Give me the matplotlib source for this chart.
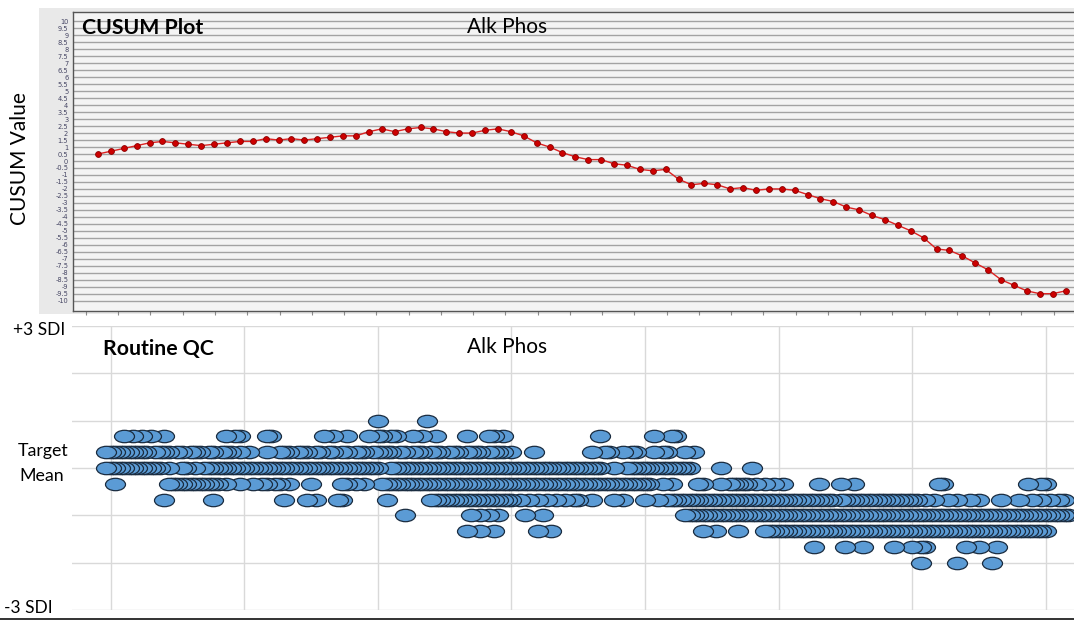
import numpy as np
import matplotlib
matplotlib.use("Agg")
import matplotlib.pyplot as plt
from matplotlib.path import Path
from matplotlib.patches import Rectangle
from matplotlib.lines import Line2D

plt.rcParams['font.family'] = ['Lato', 'DejaVu Sans']

# ---- data ----
analyte = "Alk Phos"

# CUSUM value per run
cusum = [0.5, 0.7, 0.9, 1.1, 1.3, 1.4, 1.3, 1.2, 1.1, 1.2,
         1.3, 1.4, 1.4, 1.6, 1.5, 1.6, 1.5, 1.6, 1.7, 1.8,
         1.8, 2.1, 2.3, 2.1, 2.3, 2.4, 2.3, 2.1, 2.0, 2.0,
         2.2, 2.3, 2.1, 1.8, 1.3, 1.0, 0.6, 0.3, 0.1, 0.1,
         -0.2, -0.3, -0.6, -0.7, -0.6, -1.3, -1.7, -1.6, -1.7, -2.0,
         -1.9, -2.1, -2.0, -2.0, -2.1, -2.4, -2.7, -2.9, -3.3, -3.5,
         -3.9, -4.2, -4.6, -5.0, -5.5, -6.3, -6.4, -6.8, -7.3, -7.8,
         -8.5, -8.9, -9.3, -9.5, -9.5, -9.3]

# routine QC: day of each result, grouped by SDI level
qc_p1 = [60, 71]
qc_p23 = [3, 5, 7, 9, 12, 26, 28, 29, 35, 36, 48, 50, 53, 58, 60, 61, 63, 64,
          68, 70, 73, 80, 85, 86, 88, 110, 122, 126, 127]
qc_p13 = [-1, 0, 1, 2, 3, 4, 5, 6, 7, 8, 10, 11, 12, 13, 15, 16, 18, 19, 20,
          22, 23, 25, 26, 27, 29, 31, 35, 38, 39, 40, 42, 43, 44, 46, 47, 49,
          50, 52, 53, 55, 56, 57, 59, 60, 61, 62, 63, 65, 66, 68, 69, 70, 72,
          73, 74, 76, 77, 78, 80, 81, 82, 83, 85, 86, 87, 88, 90, 95, 108,
          111, 112, 115, 117, 118, 122, 124, 125, 129, 131]
qc_0 = [-1, 0, 1, 2, 3, 4, 5, 6, 7, 8, 9, 10, 11, 13, 16, 17, 19,
        21, 22, 23, 24, 25, 26, 27, 28, 29, 30, 31, 32, 33, 34, 35, 36, 37, 38, 39, 40,
        41, 42, 43, 44, 45, 46, 47, 48, 49, 50, 51, 52, 53, 54, 55, 56, 57, 58, 59, 60,
        63, 64, 65, 66, 67, 68, 69, 70, 71, 72, 73, 74, 75, 76, 77, 78, 79, 80,
        81, 82, 83, 84, 85, 86, 87, 88, 89, 90, 91, 92, 93, 94, 95, 96, 97, 98, 99, 100,
        101, 102, 103, 104, 105, 106, 107, 108, 109, 110, 113,
        116, 117, 118, 119, 120, 121, 122, 123, 124, 125, 126, 127, 128, 129, 130,
        137, 144]
qc_m13 = [1, 13, 14, 15, 16, 17, 18, 19, 20, 21, 22, 23, 24, 26, 29, 32, 34, 35,
          37, 38, 40, 45, 52, 53, 55, 57,
          61, 62, 63, 64, 65, 66, 67, 68, 69, 70, 71, 72, 73, 74, 75, 76, 77, 78, 79, 80,
          81, 82, 83, 84, 85, 86, 87, 88, 89, 90, 91, 92, 93, 94, 95, 96, 97, 98, 99, 100,
          101, 102, 103, 104, 105, 106, 107, 108, 109, 110, 111, 112, 113, 114, 115,
          116, 117, 118, 119, 120, 121,
          124, 126, 132, 133, 137, 139, 140, 141, 142, 143, 145, 147, 149, 151, 159,
          164, 167, 186, 187, 206, 209, 210]
qc_m23 = [12, 23, 39, 44, 46, 51, 52, 62,
          72, 73, 74, 75, 76, 77, 78, 79, 80, 81, 82, 83, 84, 85, 86, 87, 88, 89, 90,
          92, 94, 96, 98, 100, 102, 104, 105, 108, 113, 115, 120, 123,
          125, 126, 127, 128, 129, 130, 131, 132, 133, 134, 135, 136, 137, 138, 139, 140,
          141, 142, 143, 144, 145, 146, 147, 148, 149, 150, 151, 152, 153, 154, 155, 156,
          157, 158, 159, 160, 161, 162,
          164, 165, 166, 167, 168, 169, 170, 171, 172, 173, 174, 175, 176, 177, 178, 179,
          180, 181, 183, 185, 188, 190, 193, 195, 200, 204, 207, 209, 211, 213, 214]
qc_m1 = [66, 81, 83, 85, 87, 93, 97,
         129, 130, 131, 132, 133, 134, 135, 136, 137, 138, 139, 140,
         141, 142, 143, 144, 145, 146, 147, 148, 149, 150, 151, 152, 153, 154, 155, 156,
         157, 158, 159, 160, 161, 162, 163, 164, 165, 166, 167, 168, 169, 170, 171, 172,
         173, 174, 175, 176, 177, 178, 179, 180, 181, 182, 183, 184, 185, 186, 187, 188,
         189, 190, 191, 192, 193, 194, 195, 196, 197, 198, 199, 200, 201, 202, 203, 204,
         205, 206, 207, 208, 209, 210, 211, 212, 213, 214, 215]
qc_m43 = [80, 83, 86, 96, 99, 133, 136, 141,
          147, 148, 149, 150, 151, 152, 153, 154, 155, 156, 157, 158, 159, 160, 161, 162,
          163, 164, 165, 166, 167, 168, 169, 170, 171, 172, 173, 174, 175, 176, 177, 178,
          179, 180, 181, 182, 183, 184, 185, 186, 187, 188, 189, 190, 191, 192, 193, 194,
          195, 196, 197, 198, 199, 200, 201, 202, 203, 204, 205, 206, 207, 208, 209, 210]
qc_m53 = [158, 165, 169, 176, 180, 182, 183, 192, 195, 199]
qc_m2 = [182, 190, 198]

qc_rows = [(1.0, qc_p1), (2 / 3, qc_p23), (1 / 3, qc_p13), (0.0, qc_0),
           (-1 / 3, qc_m13), (-2 / 3, qc_m23), (-1.0, qc_m1), (-4 / 3, qc_m43),
           (-5 / 3, qc_m53), (-2.0, qc_m2)]

# ---- figure ----
W, H = 1074, 621
fig = plt.figure(figsize=(W / 100, H / 100), dpi=100)


def box(l, t, r, b):
    # pixel box (from top-left) -> figure rect
    return [l / W, 1 - b / H, (r - l) / W, (b - t) / H]


# grey panel behind the CUSUM chart
fig.patches.append(Rectangle((39 / W, 1 - 314 / H), (W - 39) / W, (314 - 8) / H,
                             transform=fig.transFigure, facecolor='#e9e9e9',
                             edgecolor='none', zorder=-5))

# top: CUSUM plot
ax1 = fig.add_axes(box(72.7, 11.7, 1080, 311))
ax1.set_facecolor('#f4f4f4')
idx = np.arange(len(cusum))
ax1.plot(idx, cusum, color='#dd2222', lw=1.0, marker='o', ms=4.2,
         mfc='#cc0000', mec='#8a0000', mew=0.6, zorder=3)
ax1.set_xlim(-1.96, 76.12)
ax1.set_ylim(-10.74, 10.69)
yt = np.arange(-10, 10.01, 0.5)
ax1.set_yticks(yt)
ax1.set_yticklabels([f'{v:g}' for v in yt], family='DejaVu Sans')
ax1.tick_params(axis='y', length=0, pad=3.2, labelsize=4.8, labelcolor='#454563')
ax1.grid(axis='y', color='#a3a3a3', lw=1.0)
ax1.set_axisbelow(True)
ax1.set_xticks(np.arange(-0.93, 76.5, 2.5))
ax1.tick_params(axis='x', length=3, width=0.8, color='#8a8a8a', labelbottom=False)
for s in ['left', 'top', 'bottom']:
    ax1.spines[s].set_color('#555555')
    ax1.spines[s].set_linewidth(1.0)
ax1.spines['right'].set_visible(False)

fig.text(82 / W, 1 - 28 / H, 'CUSUM Plot', fontsize=15.3, fontweight='bold',
         ha='left', va='center')
fig.text(507 / W, 1 - 27 / H, analyte, fontsize=15, ha='center', va='center')
fig.text(20 / W, 1 - 159 / H, 'CUSUM Value', fontsize=15, rotation=90,
         ha='center', va='center')

# bottom: routine QC
ax2 = fig.add_axes(box(72, 326, 1080, 610))
ax2.set_xlim(-8.69, 217.7)
ax2.set_ylim(-3, 3)
ax2.set_yticks(range(-3, 4))
ax2.set_xticks(range(0, 211, 30))
ax2.grid(color='#d9d9d9', lw=1.0)
ax2.set_axisbelow(True)
ax2.tick_params(length=0, labelleft=False, labelbottom=False)
for s in ax2.spines.values():
    s.set_visible(False)

circ = Path.unit_circle()
ellipse = Path(circ.vertices * np.array([1.0, 0.62]), circ.codes)

xs, ys = [], []
for level, days in qc_rows:
    for d in days:
        xs.append(d)
        ys.append(level)
order = np.argsort(xs)[::-1]
ax2.plot(np.array(xs)[order], np.array(ys)[order], linestyle='none',
         marker=ellipse, ms=14.4, mfc='#5b9bd5', mec='#1a2c40', mew=0.9,
         clip_on=False)

fig.text(103 / W, 1 - 349 / H, 'Routine QC', fontsize=15.3, fontweight='bold',
         ha='left', va='center')
fig.text(507 / W, 1 - 347 / H, analyte, fontsize=15, ha='center', va='center')
fig.text(65 / W, 1 - 330 / H, '+3 SDI', fontsize=12.5, ha='right', va='center')
fig.text(43 / W, 1 - 451 / H, 'Target', fontsize=12.8, ha='center', va='center')
fig.text(42 / W, 1 - 476 / H, 'Mean', fontsize=12.8, ha='center', va='center')
fig.text(4 / W, 1 - 608 / H, '-3 SDI', fontsize=12.5, ha='left', va='center')

fig.add_artist(Line2D([0, 1], [1 - 619 / H] * 2, color='#111111', lw=1.2,
                      transform=fig.transFigure))

fig.savefig('out.png', dpi=100)
